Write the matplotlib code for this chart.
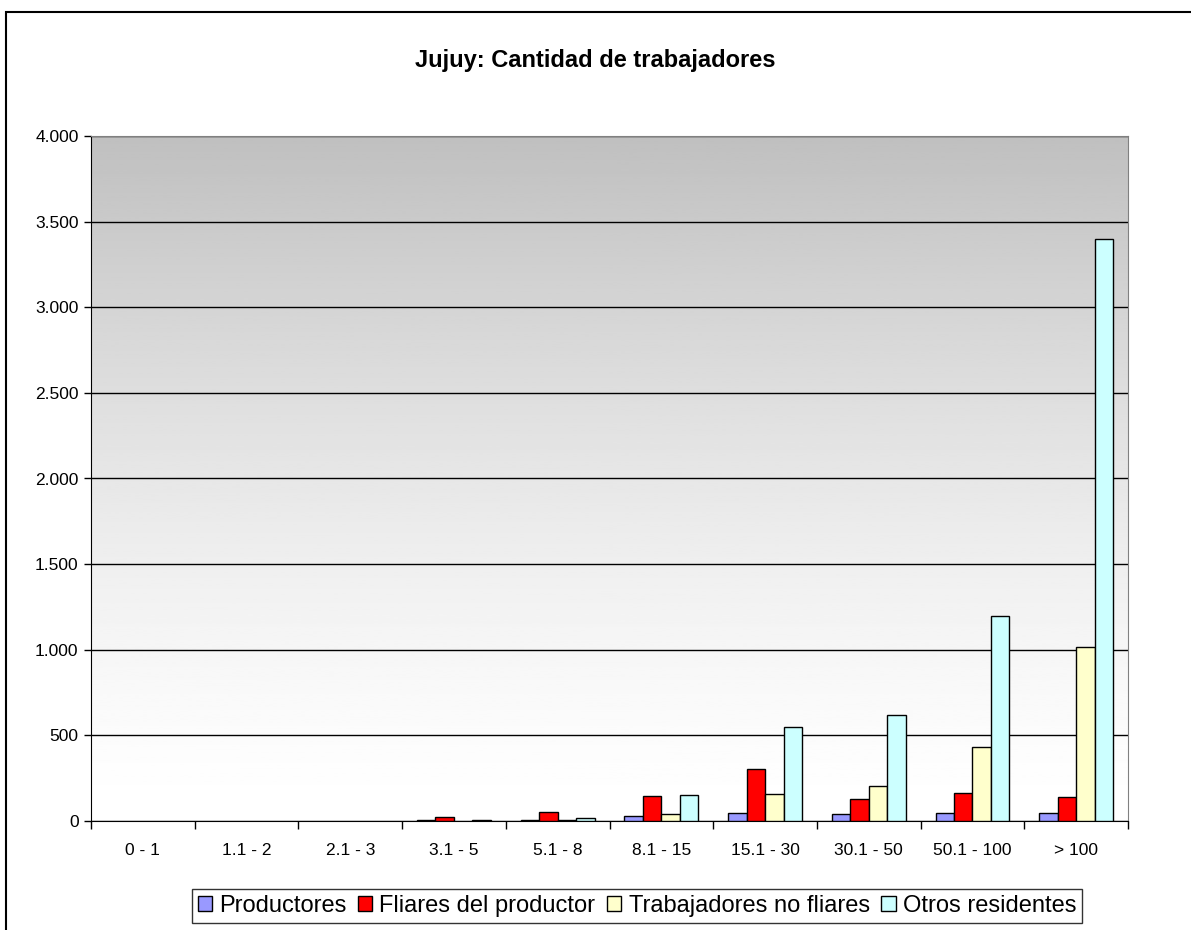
import matplotlib
matplotlib.use('Agg')
import matplotlib.pyplot as plt
from matplotlib.patches import Rectangle
from matplotlib.ticker import FuncFormatter, MultipleLocator
import numpy as np

plt.rcParams['font.family'] = ['Liberation Sans', 'DejaVu Sans']

# Datos
categorias = ['0 - 1', '1.1 - 2', '2.1 - 3', '3.1 - 5', '5.1 - 8',
              '8.1 - 15', '15.1 - 30', '30.1 - 50', '50.1 - 100', '> 100']
productores = [0, 0, 0, 5, 6, 31, 49, 41, 49, 49]
fliares = [0, 0, 0, 23, 50, 144, 306, 131, 162, 138]
trabajadores = [0, 0, 0, 0, 5, 39, 160, 202, 434, 1015]
otros = [0, 0, 0, 5, 18, 152, 546, 621, 1200, 3400]

series = ['Productores', 'Fliares del productor',
          'Trabajadores no fliares', 'Otros residentes']
colores = ['#9999FF', '#FF0000', '#FFFFCC', '#CCFFFF']

fig = plt.figure(figsize=(11.91, 9.30), dpi=100)
ax = fig.add_axes([91 / 1191, 1 - 821 / 930, (1128 - 91) / 1191, 685 / 930])

# marco exterior del area del grafico
fig.patches.append(Rectangle((6 / 1191, -0.1), 1.2, 1 - 12 / 930 + 0.1,
                             transform=fig.transFigure, fill=False,
                             edgecolor='black', linewidth=1.5))

# fondo degradado: gris arriba, blanco abajo
t = np.linspace(0, 1, 256)
grad = (1.0 - 0.25 * t ** 1.4).reshape(-1, 1)
ax.imshow(grad, cmap='gray', vmin=0, vmax=1, aspect='auto', origin='lower',
          extent=[-0.5, 9.5, 0, 4000], zorder=0)

x = np.arange(len(categorias))
ancho = 0.178
datos = [productores, fliares, trabajadores, otros]
for i, (vals, nombre, color) in enumerate(zip(datos, series, colores)):
    # sin borde para las barras en cero
    bordes = ['black' if v > 0 else 'none' for v in vals]
    ax.bar(x + (i - 1.5) * ancho, vals, width=ancho, color=color,
           edgecolor=bordes, linewidth=1, label=nombre, zorder=3)

ax.set_xlim(-0.5, 9.5)
ax.set_ylim(0, 4000)
ax.yaxis.set_major_locator(MultipleLocator(500))
ax.yaxis.set_major_formatter(FuncFormatter(lambda v, p: f'{int(v):,}'.replace(',', '.')))
ax.grid(axis='y', color='black', linewidth=1, zorder=1)

ax.set_xticks(x)
ax.set_xticklabels(categorias)
ax.set_xticks(np.arange(-0.5, 10, 1), minor=True)
ax.tick_params(axis='x', which='major', length=0, pad=16, labelsize=12.5)
ax.tick_params(axis='x', which='minor', length=6, width=1)
ax.tick_params(axis='y', length=5, width=1, labelsize=12.5, pad=4)

ax.spines['left'].set_color('black')
ax.spines['bottom'].set_color('black')
ax.spines['top'].set_color('#808080')
ax.spines['right'].set_color('#808080')

fig.text(0.5, 1 - 60 / 930, 'Jujuy: Cantidad de trabajadores',
         ha='center', va='center', fontsize=17, fontweight='bold')

leg = fig.legend(loc='center', bbox_to_anchor=(637 / 1191, 1 - 906 / 930),
                 ncol=4, fontsize=17, frameon=True, fancybox=False,
                 edgecolor='black', handlelength=0.6, handleheight=0.6,
                 handletextpad=0.3, columnspacing=0.5, borderpad=0.25,
                 borderaxespad=0)
leg.get_frame().set_linewidth(1)
for h in leg.legend_handles:
    h.set_edgecolor('black')

fig.savefig('out.png', dpi=100)
